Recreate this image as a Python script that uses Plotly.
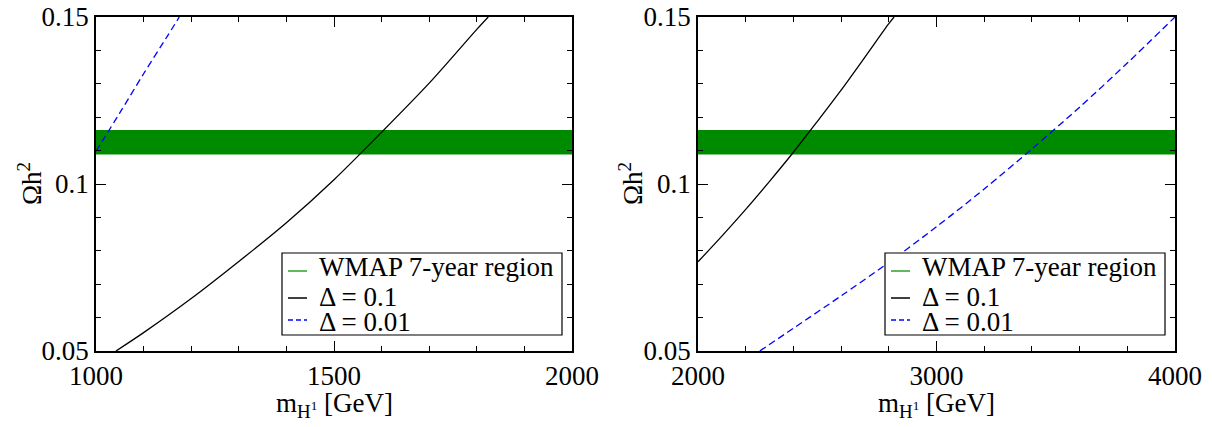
import plotly.graph_objects as go

# WMAP 7-year band
wmap_low = 0.1088
wmap_high = 0.1162

# Left panel (m_H1 in GeV)
left_black_x = [1042, 1100, 1200, 1300, 1400, 1500, 1600, 1700, 1800, 1824]
left_black_y = [0.0500, 0.0555, 0.0657, 0.0768, 0.0884, 0.1013, 0.1155, 0.1302, 0.1463, 0.1500]
left_blue_x = [1000, 1050, 1100, 1150, 1175]
left_blue_y = [0.1098, 0.1213, 0.1330, 0.1443, 0.1500]

# Right panel
right_black_x = [2000, 2100, 2200, 2300, 2400, 2500, 2600, 2700, 2800, 2822]
right_black_y = [0.0767, 0.0844, 0.0924, 0.1008, 0.1095, 0.1187, 0.1281, 0.1380, 0.1480, 0.1500]
right_blue_x = [2259, 2400, 2600, 2800, 3000, 3200, 3400, 3600, 3800, 4000]
right_blue_y = [0.0500, 0.0568, 0.0665, 0.0765, 0.0872, 0.0985, 0.1105, 0.1230, 0.1362, 0.1500]

left_xrange = [1000, 2000]
right_xrange = [2000, 4000]
y_range = [0.05, 0.15]
y_tickvals = [0.05, 0.1, 0.15]
y_ticktext = ["0.05", "0.1", "0.15"]

legend_labels = ["WMAP 7-year region", "Δ = 0.1", "Δ = 0.01"]
x_title = "m<sub>H<sup>1</sup></sub> [GeV]"
y_title = "Ωh<sup>2</sup>"

GREEN = "#008a00"
LEG_GREEN = "#2ca02c"
FONT = "Liberation Serif"
FS = 27

W, H = 1212, 427


def px(v):
    return v / W


def py(v):
    return (H - v) / H


fig = go.Figure()

panels = [
    ("x", "y", left_xrange, left_black_x, left_black_y, left_blue_x, left_blue_y),
    ("x2", "y2", right_xrange, right_black_x, right_black_y, right_blue_x, right_blue_y),
]

for xa, ya, xr, bx, by, ux, uy in panels:
    fig.add_trace(go.Scatter(
        x=[xr[0], xr[1], xr[1], xr[0], xr[0]],
        y=[wmap_low, wmap_low, wmap_high, wmap_high, wmap_low],
        fill="toself", fillcolor=GREEN, mode="none", name=legend_labels[0],
        showlegend=False, xaxis=xa, yaxis=ya, hoverinfo="skip"))
    fig.add_trace(go.Scatter(
        x=bx, y=by, mode="lines", line=dict(color="black", width=1.3, shape="spline", smoothing=0.8),
        name=legend_labels[1], showlegend=False, xaxis=xa, yaxis=ya))
    fig.add_trace(go.Scatter(
        x=ux, y=uy, mode="lines",
        line=dict(color="blue", width=1.3, dash="7px,4px", shape="spline", smoothing=0.8),
        name=legend_labels[2], showlegend=False, xaxis=xa, yaxis=ya))

dom_y = [py(351), py(17)]
dom_x1 = [px(96), px(572)]
dom_x2 = [px(698), px(1175)]

axis_common = dict(
    showgrid=False, zeroline=False, showline=True, linecolor="black", linewidth=1.5,
    mirror="allticks", ticks="inside", ticklen=10, tickwidth=1.2, tickcolor="black",
    automargin=False,
    tickfont=dict(family=FONT, size=FS, color="black"),
)
minor_common = dict(ticks="inside", ticklen=5, tickcolor="black", tickwidth=1)

fig.update_layout(
    width=W, height=H,
    margin=dict(l=0, r=0, t=0, b=0),
    paper_bgcolor="white", plot_bgcolor="white",
    font=dict(family=FONT, size=FS, color="black"),
    showlegend=False,
    xaxis=dict(domain=dom_x1, range=left_xrange, anchor="y", tick0=1000, dtick=500,
               minor=dict(dtick=100, **minor_common), **axis_common),
    yaxis=dict(domain=dom_y, range=y_range, anchor="x", tickvals=y_tickvals, ticktext=y_ticktext,
               minor=dict(dtick=0.01, tick0=0.05, **minor_common), **axis_common),
    xaxis2=dict(domain=dom_x2, range=right_xrange, anchor="y2", tick0=2000, dtick=1000,
                minor=dict(dtick=200, **minor_common), **axis_common),
    yaxis2=dict(domain=dom_y, range=y_range, anchor="x2", tickvals=y_tickvals, ticktext=y_ticktext,
                minor=dict(dtick=0.01, tick0=0.05, **minor_common), **axis_common),
)

# Legends (one per panel), drawn as a framed key
leg_colors = [LEG_GREEN, "black", "blue"]
leg_dash = ["solid", "solid", "dash"]
row_line_y = [271, 298, 320]
row_text_y = [267, 297, 322]
for bx0, bx1 in [(282, 562), (885, 1165)]:
    fig.add_shape(type="rect", xref="paper", yref="paper",
                  x0=px(bx0), x1=px(bx1), y0=py(335), y1=py(253),
                  line=dict(color="black", width=1.2), fillcolor="white", layer="above")
    for i, lab in enumerate(legend_labels):
        fig.add_shape(type="line", xref="paper", yref="paper",
                      x0=px(bx0 + 6), x1=px(bx0 + 25), y0=py(row_line_y[i]), y1=py(row_line_y[i]),
                      line=dict(color=leg_colors[i], width=1.5,
                                dash="5px,3px" if leg_dash[i] == "dash" else "solid"),
                      layer="above")
        fig.add_annotation(text=lab, x=px(bx0 + 35), y=py(row_text_y[i]), xref="paper", yref="paper",
                           xanchor="left", yanchor="middle", showarrow=False,
                           font=dict(family=FONT, size=FS, color="black"))

for cx in [(96 + 572) / 2, (698 + 1175) / 2]:
    fig.add_annotation(text=x_title, x=px(cx), y=py(405), xref="paper", yref="paper",
                       xanchor="center", yanchor="middle",
                       showarrow=False, font=dict(family=FONT, size=FS, color="black"))
for cx in [30, 631]:
    fig.add_annotation(text=y_title, x=px(cx), y=py(184), xref="paper", yref="paper",
                       xanchor="center", yanchor="middle",
                       showarrow=False, textangle=-90, font=dict(family=FONT, size=FS, color="black"))

fig.write_html("out.html", config={"displayModeBar": False},
               post_script="document.body.style.margin='0';")
